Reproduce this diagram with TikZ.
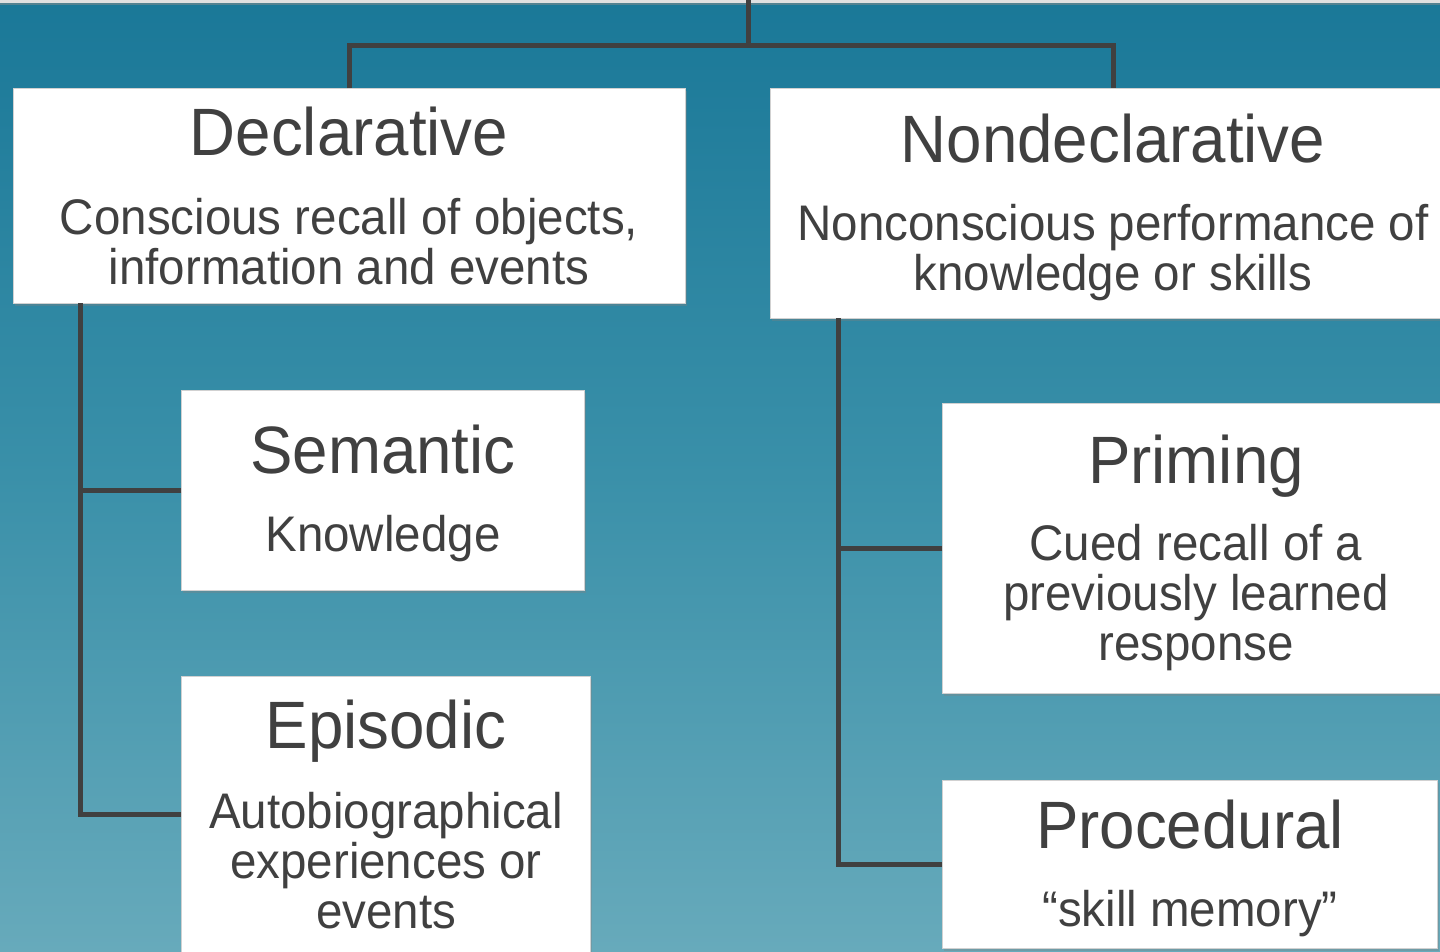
\documentclass[tikz,border=0pt]{standalone}
\usepackage{fontspec}
\setmainfont[FakeStretch=0.95]{Liberation Sans}
\usetikzlibrary{shadows}
\definecolor{bgtop}{HTML}{1A7898}
\definecolor{bgmid}{HTML}{3A90A9}
\definecolor{bgbot}{HTML}{67AABB}
\definecolor{ink}{HTML}{404040}
\begin{document}
\begin{tikzpicture}[x=1pt,y=-1pt,
  box/.style={draw=black!18,line width=0.8pt,fill=white,inner sep=0pt,outer sep=0pt,
    drop shadow={opacity=0.35,shadow xshift=2pt,shadow yshift=-3pt}},
  link/.style={draw=ink,line width=5pt},
  title/.style={anchor=base,text=ink,inner sep=0pt,font=\fontsize{67}{67}\selectfont},
  sub/.style={anchor=base,text=ink,inner sep=0pt,align=center,font=\fontsize{50}{50}\selectfont}]
\useasboundingbox (0,0) rectangle (1440,951);
\clip (0,0) rectangle (1440,951);
% background
\shade[top color=bgtop,bottom color=bgbot,middle color=bgmid] (0,0) rectangle (1440,951);
\fill[black!12] (0,0) rectangle (1440,3);
\fill[black!45,opacity=0.5] (0,3) rectangle (1440,5);

% boxes
\node[box,minimum width=672pt,minimum height=215pt] (decl) at (349,195.5) {};
\node[box,minimum width=686pt,minimum height=230pt] (nondecl) at (1113,203) {};
\node[box,minimum width=403pt,minimum height=200pt] (sem) at (382.5,490) {};
\node[box,minimum width=409pt,minimum height=276pt] (epi) at (385.5,814) {};
\node[box,minimum width=508pt,minimum height=290pt] (prim) at (1196,548) {};
\node[box,minimum width=495pt,minimum height=168pt] (proc) at (1189.5,864) {};

% connectors
\coordinate (root) at (748,0);
\coordinate (hub) at (748,45);
\coordinate (ltrunk) at ([xshift=67pt]decl.south west);
\coordinate (rtrunk) at ([xshift=68pt]nondecl.south west);
\draw[link] (root) -- (hub);
\draw[link,line join=miter] (decl.north) |- (hub) -| (nondecl.north);
\draw[link,line join=miter] (ltrunk) |- (epi.west);
\draw[link] (sem.west) -- (sem.west -| ltrunk);
\draw[link,line join=miter] (rtrunk) |- (proc.west);
\draw[link] (prim.west) -- (prim.west -| rtrunk);

% texts (multi-line texts are placed by the baseline of their last line)
\node[title] (t1) at (349,155) {Declarative};
\node[sub] (s1) at (349,284) {Conscious recall of objects,\\information and events};
\node[title] (t2) at (1113,162) {Nondeclarative};
\node[sub] (s2) at (1113,290) {Nonconscious performance of\\knowledge or skills};
\node[title] (t3) at (383,473) {Semantic};
\node[sub] (s3) at (383,551) {Knowledge};
\node[title] (t4) at (386,748) {Episodic};
\node[sub] (s4) at (386,928) {Autobiographical\\experiences or\\events};
\node[title] (t5) at (1196,483) {Priming};
\node[sub] (s5) at (1196,660) {Cued recall of a\\previously learned\\response};
\node[title] (t6) at (1190,848) {Procedural};
\node[sub] (s6) at (1190,926) {“skill memory”};
\end{tikzpicture}
\end{document}
